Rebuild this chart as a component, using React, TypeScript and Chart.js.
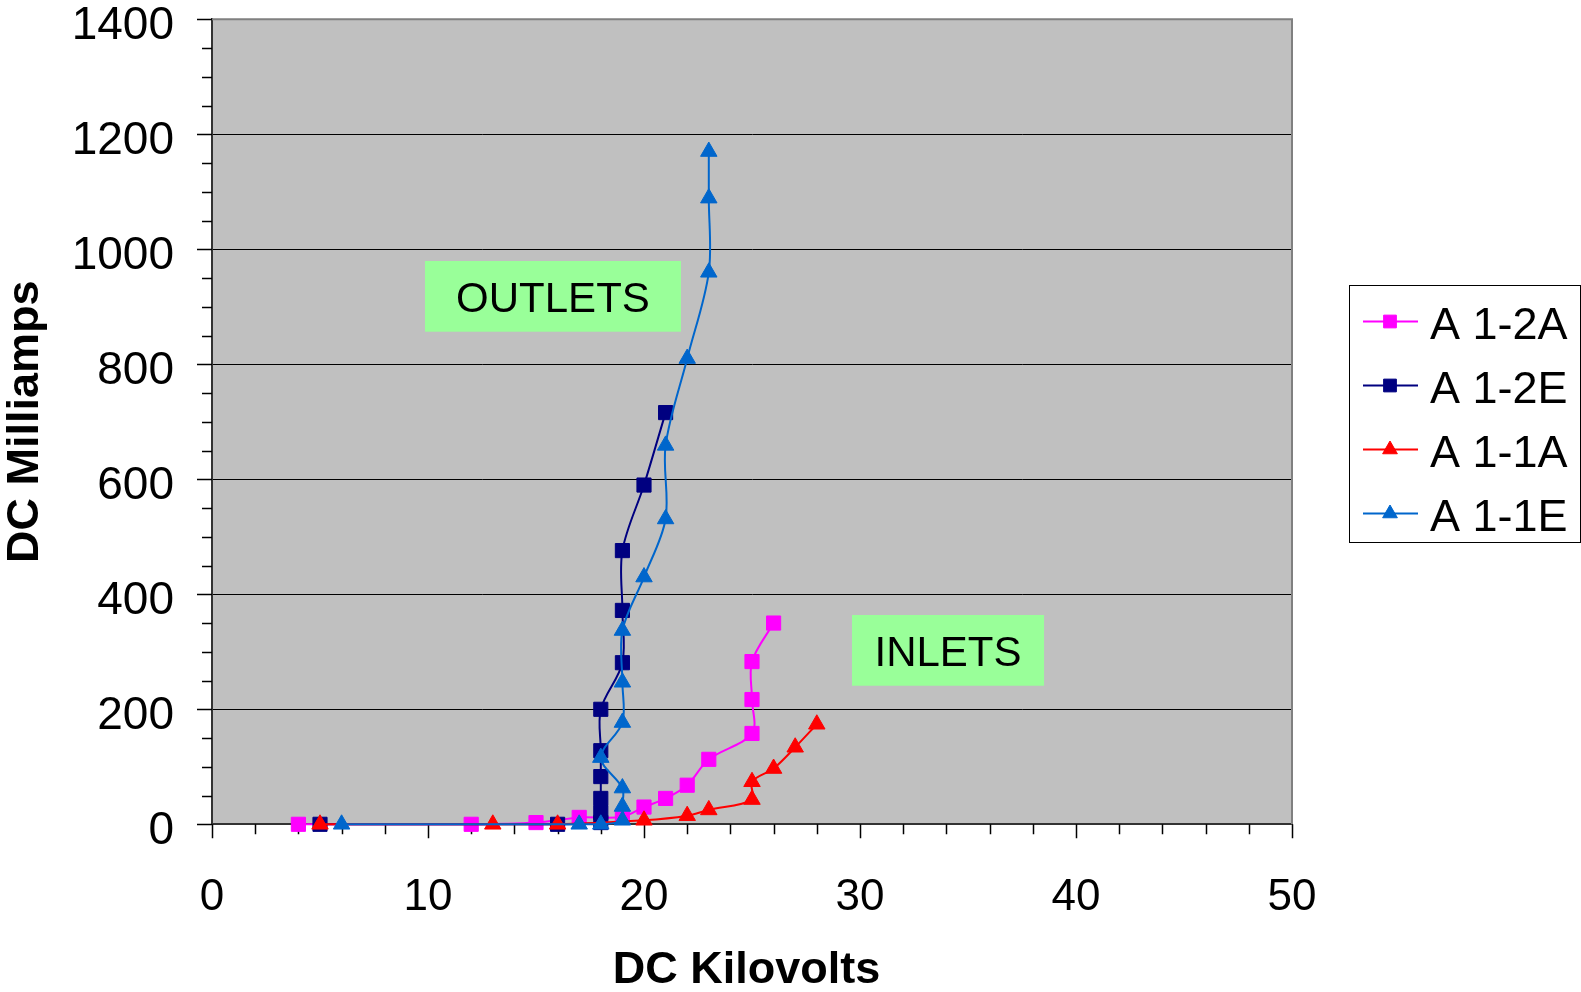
import React, { useEffect, useRef } from "react";
import { Chart, registerables } from "chart.js";

Chart.register(...registerables);

// ---------- data ----------
const SERIES_NAMES = ["A 1-2A", "A 1-2E", "A 1-1A", "A 1-1E"];

const a12aKv = [4, 12, 15, 17, 19, 20, 21, 22, 23, 25, 25, 25, 26];
const a12aMa = [0, 0, 3, 12, 13, 30, 45, 68, 113, 158, 217, 283, 350];

const a12eKv = [5, 16, 18, 18, 18, 18, 18, 18, 19, 19, 19, 20, 21];
const a12eMa = [0, 0, 3, 20, 45, 83, 128, 200, 281, 372, 476, 590, 716];

const a11aKv = [5, 13, 16, 20, 22, 23, 25, 25, 26, 27, 28];
const a11aMa = [0, 0, 0, 7, 15, 25, 43, 74, 97, 134, 174];

const a11eKv = [6, 17, 18, 19, 19, 19, 18, 19, 19, 19, 20, 21, 21, 22, 23, 23, 23];
const a11eMa = [0, 0, 0, 7, 31, 63, 116, 177, 247, 337, 430, 531, 659, 810, 960, 1089, 1170];

const X_TICKS = [0, 10, 20, 30, 40, 50];
const X_TICK_LABELS = ["0", "10", "20", "30", "40", "50"];
const Y_TICKS = [0, 200, 400, 600, 800, 1000, 1200, 1400];
const Y_TICK_LABELS = ["0", "200", "400", "600", "800", "1000", "1200", "1400"];
const X_MINOR_STEP = 2;
const Y_MINOR_STEP = 50;

const X_TITLE = "DC Kilovolts";
const Y_TITLE = "DC Milliamps";

const ANNOTATION_TEXTS = ["OUTLETS", "INLETS"];

// ---------- styles / layout ----------
const FONT = "'Liberation Sans', Arial, Helvetica, sans-serif";
const W = 1581;
const H = 992;
const AREA = { left: 212, top: 19.3, right: 1292, bottom: 824.3 };
const X_TITLE_POS = { x: 746.5, y: 970.5 };

const SERIES_STYLE = [
  { color: "#FF00FF", point: "rect", radius: 10, order: 4 },
  { color: "#000080", point: "rect", radius: 10, order: 3 },
  { color: "#FF0000", point: "triangle", radius: 9.5, order: 2 },
  { color: "#0066CC", point: "triangle", radius: 9.5, order: 1 },
];

// annotation boxes, in data coordinates
const ANNOTATION_BOXES = [
  { x0: 9.86, x1: 21.71, y0: 856.7, y1: 979.7 },
  { x0: 29.63, x1: 38.52, y0: 241, y1: 364 },
];

const LEGEND_BOX = { left: 1349.5, top: 285.5, right: 1580.5, bottom: 542.5 };
const LEGEND_ROW = { lineX0: 1363, lineX1: 1418, markerX: 1390, textX: 1430, firstY: 321.5, gap: 64 };

function zip(xs: number[], ys: number[]) {
  return xs.map((x, i) => ({ x, y: ys[i] }));
}

const SERIES_DATA = [
  zip(a12aKv, a12aMa),
  zip(a12eKv, a12eMa),
  zip(a11aKv, a11aMa),
  zip(a11eKv, a11eMa),
];

function drawMarker(ctx: CanvasRenderingContext2D, style: string, x: number, y: number, r: number, color: string) {
  ctx.save();
  ctx.fillStyle = color;
  ctx.strokeStyle = color;
  ctx.lineWidth = 1;
  ctx.beginPath();
  if (style === "rect") {
    const s = r * Math.SQRT1_2;
    ctx.rect(x - s, y - s, 2 * s, 2 * s);
  } else {
    const h = Math.sqrt(3) / 2;
    ctx.moveTo(x, y - r);
    ctx.lineTo(x + r * h, y + r / 2);
    ctx.lineTo(x - r * h, y + r / 2);
    ctx.closePath();
  }
  ctx.fill();
  ctx.stroke();
  ctx.restore();
}

const decorPlugin = {
  id: "decor",
  beforeDraw(chart: any) {
    const { ctx, chartArea: a } = chart;
    ctx.save();
    ctx.fillStyle = "#FFFFFF";
    ctx.fillRect(0, 0, chart.width, chart.height);
    ctx.fillStyle = "#C0C0C0";
    ctx.fillRect(a.left, a.top, a.right - a.left, a.bottom - a.top);
    ctx.restore();
  },
  beforeDatasetsDraw(chart: any) {
    const { ctx, chartArea: a, scales } = chart;
    const xs = scales.x;
    const ys = scales.y;
    ctx.save();
    // plot frame (top / right)
    ctx.strokeStyle = "#808080";
    ctx.lineWidth = 2;
    ctx.beginPath();
    ctx.moveTo(a.left, a.top);
    ctx.lineTo(a.right, a.top);
    ctx.lineTo(a.right, a.bottom);
    ctx.stroke();

    // annotation boxes
    ANNOTATION_BOXES.forEach((b, i) => {
      const l = xs.getPixelForValue(b.x0);
      const r = xs.getPixelForValue(b.x1);
      const t = ys.getPixelForValue(b.y1);
      const bt = ys.getPixelForValue(b.y0);
      ctx.fillStyle = "#99FF99";
      ctx.fillRect(l, t, r - l, bt - t);
      ctx.fillStyle = "#000000";
      ctx.font = `42px ${FONT}`;
      ctx.textAlign = "center";
      ctx.textBaseline = "middle";
      ctx.fillText(ANNOTATION_TEXTS[i], (l + r) / 2, (t + bt) / 2 + 4);
    });

    // tick marks
    ctx.strokeStyle = "#000000";
    ctx.lineWidth = 1.5;
    ctx.beginPath();
    const yMax = Y_TICKS[Y_TICKS.length - 1];
    for (let v = Y_TICKS[0]; v <= yMax; v += Y_MINOR_STEP) {
      const py = Math.round(ys.getPixelForValue(v)) + 0.5;
      const len = Y_TICKS.includes(v) ? 15 : 10;
      ctx.moveTo(a.left - len, py);
      ctx.lineTo(a.left, py);
    }
    const xMax = X_TICKS[X_TICKS.length - 1];
    for (let v = X_TICKS[0]; v <= xMax; v += X_MINOR_STEP) {
      const px = Math.round(xs.getPixelForValue(v)) + 0.5;
      const len = X_TICKS.includes(v) ? 14 : 10;
      ctx.moveTo(px, a.bottom);
      ctx.lineTo(px, a.bottom + len);
    }
    ctx.stroke();
    ctx.restore();
  },
  afterDraw(chart: any) {
    const { ctx } = chart;
    ctx.save();
    // x axis title
    ctx.fillStyle = "#000000";
    ctx.font = `bold 45px ${FONT}`;
    ctx.textAlign = "center";
    ctx.textBaseline = "middle";
    ctx.fillText(X_TITLE, X_TITLE_POS.x, X_TITLE_POS.y);

    // legend
    ctx.fillStyle = "#FFFFFF";
    ctx.fillRect(LEGEND_BOX.left, LEGEND_BOX.top, LEGEND_BOX.right - LEGEND_BOX.left, LEGEND_BOX.bottom - LEGEND_BOX.top);
    ctx.strokeStyle = "#000000";
    ctx.lineWidth = 1;
    ctx.strokeRect(LEGEND_BOX.left, LEGEND_BOX.top, LEGEND_BOX.right - LEGEND_BOX.left, LEGEND_BOX.bottom - LEGEND_BOX.top);
    SERIES_NAMES.forEach((name, i) => {
      const st = SERIES_STYLE[i];
      const y = LEGEND_ROW.firstY + i * LEGEND_ROW.gap;
      ctx.strokeStyle = st.color;
      ctx.lineWidth = 2;
      ctx.beginPath();
      ctx.moveTo(LEGEND_ROW.lineX0, y);
      ctx.lineTo(LEGEND_ROW.lineX1, y);
      ctx.stroke();
      drawMarker(ctx, st.point, LEGEND_ROW.markerX, y, st.radius - 1, st.color);
      ctx.fillStyle = "#000000";
      ctx.font = `45px ${FONT}`;
      ctx.textAlign = "left";
      ctx.textBaseline = "middle";
      ctx.fillText(name, LEGEND_ROW.textX, y + 5);
    });
    ctx.restore();
  },
};

export default function App() {
  const ref = useRef<HTMLCanvasElement | null>(null);

  useEffect(() => {
    if (!ref.current) return;
    Chart.defaults.font.family = FONT;
    Chart.defaults.color = "#000000";

    const chart = new Chart(ref.current, {
      type: "scatter",
      data: {
        datasets: SERIES_NAMES.map((name, i) => ({
          label: name,
          data: SERIES_DATA[i],
          showLine: true,
          borderColor: SERIES_STYLE[i].color,
          backgroundColor: SERIES_STYLE[i].color,
          pointBorderColor: SERIES_STYLE[i].color,
          pointBackgroundColor: SERIES_STYLE[i].color,
          pointStyle: SERIES_STYLE[i].point as any,
          pointRadius: SERIES_STYLE[i].radius,
          pointBorderWidth: 1,
          borderWidth: 2,
          tension: 0.33,
          clip: false as any,
          order: SERIES_STYLE[i].order,
        })),
      },
      options: {
        animation: false,
        responsive: false,
        devicePixelRatio: 1,
        layout: {
          padding: { left: 0, top: AREA.top, right: W - AREA.right, bottom: 0 },
        },
        plugins: {
          legend: { display: false },
          tooltip: { enabled: false },
        },
        scales: {
          x: {
            type: "linear",
            position: "bottom",
            min: X_TICKS[0],
            max: X_TICKS[X_TICKS.length - 1],
            afterBuildTicks: (s: any) => {
              s.ticks = X_TICKS.map((v) => ({ value: v }));
            },
            afterFit: (s: any) => {
              s.height = H - AREA.bottom;
              s.paddingLeft = 0;
              s.paddingRight = 0;
              s.paddingTop = 0;
              s.paddingBottom = 0;
            },
            grid: { drawOnChartArea: false, drawTicks: false },
            border: { display: true, color: "#333333", width: 2 },
            ticks: {
              padding: 52,
              color: "#000000",
              autoSkip: false,
              maxRotation: 0,
              font: { size: 44, lineHeight: 1, family: FONT },
              callback: (v: any) => {
                const i = X_TICKS.indexOf(Number(v));
                return i >= 0 ? X_TICK_LABELS[i] : "";
              },
            },
            title: { display: false },
          },
          y: {
            type: "linear",
            position: "left",
            min: Y_TICKS[0],
            max: Y_TICKS[Y_TICKS.length - 1],
            afterBuildTicks: (s: any) => {
              s.ticks = Y_TICKS.map((v) => ({ value: v }));
            },
            afterFit: (s: any) => {
              s.width = AREA.left;
              s.paddingLeft = 0;
              s.paddingRight = 0;
              s.paddingTop = 0;
              s.paddingBottom = 0;
            },
            grid: {
              drawTicks: false,
              lineWidth: 1,
              color: (c: any) => {
                const v = c.tick ? c.tick.value : 0;
                return v > Y_TICKS[0] && v < Y_TICKS[Y_TICKS.length - 1] ? "#000000" : "rgba(0,0,0,0)";
              },
            },
            border: { display: true, color: "#333333", width: 2 },
            ticks: {
              padding: 38,
              labelOffset: 7,
              color: "#000000",
              autoSkip: false,
              font: { size: 46, lineHeight: 1, family: FONT },
              callback: (v: any) => {
                const i = Y_TICKS.indexOf(Number(v));
                return i >= 0 ? Y_TICK_LABELS[i] : "";
              },
            },
            title: {
              display: true,
              text: Y_TITLE,
              color: "#000000",
              font: { size: 45, weight: "bold", lineHeight: 1, family: FONT },
              padding: { top: 3, bottom: 0 },
            },
          },
        },
      } as any,
      plugins: [decorPlugin],
    });

    return () => {
      chart.destroy();
    };
  }, []);

  return (
    <div style={{ position: "fixed", left: 0, top: 0, width: W, height: H, background: "#FFFFFF" }}>
      <canvas ref={ref} width={W} height={H} style={{ display: "block", width: W, height: H }} />
    </div>
  );
}
